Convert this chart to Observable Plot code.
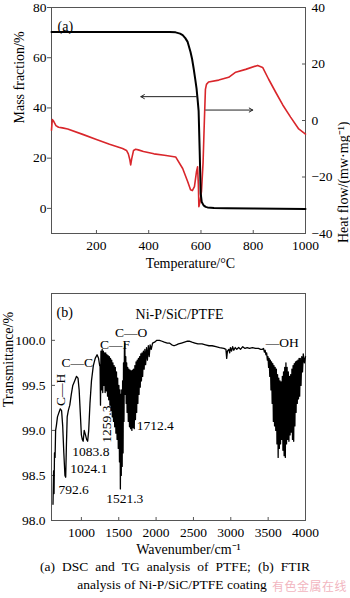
<!DOCTYPE html>
<html><head><meta charset="utf-8">
<script src="https://cdn.jsdelivr.net/npm/d3@7"></script>
<script src="https://cdn.jsdelivr.net/npm/@observablehq/plot@0.6"></script>
<style>
html,body{margin:0;padding:0;background:#fff;}
#wrap{position:relative;width:350px;height:598px;overflow:hidden;font-family:"Liberation Serif","Times New Roman",serif;color:#000;}
#wrap svg{overflow:visible;background:transparent;}
.pa{position:absolute;left:0;}
#cap1{position:absolute;left:40px;top:558px;width:270px;font-size:13.5px;line-height:18px;text-align:justify;text-align-last:justify;white-space:nowrap;}
#cap2{position:absolute;left:0;top:576px;width:344px;font-size:13.5px;line-height:18px;text-align:center;}
#wm{position:absolute;left:272px;top:578px;font-family:"Noto Sans CJK SC",sans-serif;font-size:12px;line-height:16px;color:#f2b6bf;letter-spacing:0.5px;}
</style></head><body>
<div id="wrap">
<div id="chartA" class="pa" style="top:0"></div>
<div id="chartB" class="pa" style="top:280px"></div>
<div id="cap1">(a) DSC and TG analysis of PTFE; (b) FTIR</div>
<div id="cap2">analysis of Ni-P/SiC/PTFE coating</div>
<div id="wm">有色金属在线</div>
</div>
<script>
// ---------- Panel (a) data ----------
const tgTemp = [28, 100, 200, 300, 400, 450, 480, 503, 520, 530, 540, 549, 560, 566, 572, 578, 583, 587, 591, 595, 599, 603, 610, 618, 625, 650, 700, 800, 900, 1000];
const tgMass = [70.2, 70.2, 70.2, 70.2, 70.2, 70.2, 70.2, 70.1, 69.6, 69.0, 67.8, 66.3, 62.3, 59.5, 55.7, 51.5, 47.8, 43.5, 38.8, 23.1, 5.9, 2.5, 1.2, 0.6, 0.4, 0.2, 0.1, 0.0, -0.1, -0.2];
const dscTemp = [28, 31, 36, 45, 55, 70, 90, 150, 200, 250, 300, 315, 322, 328, 331, 335, 342, 350, 360, 380, 420, 460, 503, 530, 549, 560, 567, 575, 583, 587, 590, 592, 597, 602, 608, 613, 617, 621, 629, 668, 706, 733, 771, 817, 836, 859, 886, 913, 943, 974, 1000];
const dscHeat = [-3.4, 0.3, -0.2, -1.8, -2.4, -2.6, -3.0, -5.0, -6.7, -8.4, -9.9, -10.6, -11.8, -14.0, -15.7, -13.5, -10.6, -10.2, -10.4, -11.0, -11.8, -12.3, -12.9, -17.0, -21.6, -24.5, -24.8, -23.4, -18.0, -16.4, -22.7, -30.5, -28.5, -25.0, -15.0, 0.0, 11.0, 12.8, 13.6, 14.3, 15.3, 17.1, 18.1, 19.5, 18.8, 14.6, 10.0, 5.5, 1.2, -3.0, -4.8];
const massTicks = [0, 20, 40, 60, 80];
const heatTicks = [-40, -20, 0, 20, 40];
const tempTicks = [200, 400, 600, 800, 1000];
const massDomain = [-10, 80];
const heatDomain = [-40, 40];
const tempDomain = [28, 1000];
// arrows: TG arrow (left axis), DSC arrow (right axis)
const arrowTG = {from: 585, to: 370, mass: 44.5};
const arrowDSC = {from: 618, to: 798, heat: 3.7};

// ---------- Panel (b) data ----------
const ftirLow = [[620,98.18],[628,98.55],[634,98.3],[640,98.75],[648,98.7],[655,99.0],[665,99.05],[680,99.15],[700,99.2],[718,99.24],[735,99.22],[750,99.05],[765,98.75],[780,98.5],[790,98.48],[800,98.85],[810,99.15],[825,99.22],[845,99.28],[865,99.4],[885,99.5],[910,99.55],[935,99.6],[955,99.58],[970,99.45],[985,99.2],[1000,98.95],[1012,98.9],[1024,98.88],[1038,99.0],[1055,98.95],[1070,98.9],[1084,98.88],[1098,99.0],[1115,99.3],[1135,99.55],[1160,99.72],[1185,99.8],[1210,99.84],[1230,99.8],[1245,99.72]];
const ftirCF = [[1250,99.72],[1256,99.28],[1262,99.88],[1270,99.45],[1278,99.9],[1286,99.42],[1294,99.88],[1302,99.5],[1310,99.86],[1318,99.42],[1326,99.86],[1334,99.44],[1342,99.84],[1350,99.38],[1358,99.83],[1366,99.34],[1374,99.82],[1382,99.28],[1390,99.8],[1398,99.22],[1406,99.78],[1414,99.15],[1422,99.75],[1430,99.1],[1438,99.72],[1446,99.04],[1454,99.7],[1462,98.97],[1470,99.65],[1478,98.9],[1486,99.58],[1494,98.8],[1502,99.5],[1510,98.65],[1516,99.45],[1522,98.35],[1528,99.4],[1534,98.5],[1540,99.45],[1546,98.6],[1552,99.55],[1558,98.75],[1564,99.75],[1570,99.1],[1576,99.9],[1582,99.97],[1588,99.4],[1594,99.82],[1600,99.3],[1606,99.75],[1612,99.2],[1620,99.7],[1628,99.1],[1636,99.68],[1644,99.04],[1652,99.67],[1660,99.02],[1668,99.66],[1676,99.0],[1684,99.67],[1692,99.03],[1700,99.68],[1708,99.02],[1716,99.72],[1724,99.12],[1732,99.76],[1740,99.2],[1748,99.78],[1756,99.3],[1764,99.8],[1772,99.4],[1780,99.82],[1788,99.48],[1796,99.85],[1804,99.55],[1812,99.86],[1820,99.6],[1830,99.88],[1840,99.68],[1850,99.9],[1860,99.73],[1872,99.92],[1884,99.78],[1896,99.94],[1908,99.82],[1920,99.95],[1935,99.9],[1953,99.97]];
const ftirMid = [[1980,99.98],[2010,100.0],[2045,100.0],[2080,99.99],[2110,99.98],[2150,99.97],[2178,99.97],[2210,99.95],[2240,99.94],[2271,99.95],[2300,99.96],[2340,99.97],[2380,99.98],[2420,99.99],[2443,99.99],[2480,99.98],[2520,99.97],[2560,99.96],[2615,99.96],[2660,99.95],[2708,99.94],[2750,99.94],[2801,99.93],[2850,99.92],[2907,99.91],[2935,99.9],[2945,99.8],[2955,99.88],[2973,99.9],[2985,99.86],[2995,99.92],[3010,99.88],[3025,99.93],[3040,99.89],[3060,99.92],[3080,99.9],[3106,99.92],[3130,99.9],[3160,99.93],[3190,99.91],[3220,99.92],[3250,99.91],[3290,99.92],[3330,99.91],[3370,99.91]];
const ftirOH = [[3400,99.9],[3420,99.9],[3438,99.91],[3450,99.87],[3460,99.89],[3470,99.84],[3480,99.86],[3490,99.78],[3498,99.82],[3506,99.7],[3514,99.8],[3522,99.6],[3530,99.78],[3538,99.45],[3546,99.76],[3554,99.3],[3562,99.74],[3570,99.1],[3578,99.72],[3586,99.05],[3594,99.7],[3602,99.0],[3610,99.68],[3618,98.85],[3626,99.62],[3634,98.7],[3642,99.58],[3650,98.8],[3658,99.55],[3666,98.85],[3674,99.54],[3682,98.9],[3690,99.6],[3698,98.78],[3706,99.65],[3714,98.72],[3722,99.7],[3730,98.7],[3738,99.75],[3746,98.85],[3754,99.7],[3762,98.9],[3770,99.65],[3778,98.88],[3786,99.6],[3794,98.95],[3802,99.62],[3810,98.98],[3818,99.68],[3826,98.9],[3834,99.72],[3842,98.88],[3850,99.74],[3858,99.05],[3866,99.76],[3874,99.2],[3882,99.77],[3890,99.3],[3898,99.78],[3906,99.35],[3914,99.8],[3922,99.38],[3930,99.8],[3940,99.5],[3950,99.82],[3960,99.65],[3970,99.85],[3985,99.75],[4000,99.82]];
const wnTicks = [1000, 1500, 2000, 2500, 3000, 3500, 4000];
const transTicks = [98.0, 98.5, 99.0, 99.5, 100.0];
const wnDomain = [600, 4000];
const transDomain = [98.0, 100.52];
// peak annotations anchored at (wavenumber, transmittance)
const bondLabels = [
  {wn: 945, t: 99.75, text: "C—C", rotate: 0},
  {wn: 1449, t: 99.95, text: "C—F", rotate: 0},
  {wn: 1667, t: 100.08, text: "C—O", rotate: 0},
  {wn: 3690, t: 99.97, text: "—OH", rotate: 0},
  {wn: 719, t: 99.45, text: "C—H", rotate: -90},
  {wn: 1335, t: 99.07, text: "1259.3", rotate: -90},
  {wn: 1581, t: 98.24, text: "1521.3", rotate: 0}
];
const peakLabels = [
  {wn: 1740, t: 99.05, text: "1712.4"},
  {wn: 878, t: 98.76, text: "1083.8"},
  {wn: 852, t: 98.58, text: "1024.1"},
  {wn: 693, t: 98.34, text: "792.6"}
];

// ---------- helpers ----------
const heatToMass = h => massDomain[0] + (h - heatDomain[0]) * (massDomain[1] - massDomain[0]) / (heatDomain[1] - heatDomain[0]);
const massToHeat = m => heatDomain[0] + (m - massDomain[0]) * (heatDomain[1] - heatDomain[0]) / (massDomain[1] - massDomain[0]);
const fmtMinus = v => v < 0 ? "\u2212" + Math.abs(v) : String(v);
const FONT = "Liberation Serif, Times New Roman, serif";
const AX = "#555";

const tg = tgTemp.map((t, i) => ({t, v: tgMass[i]}));
const dsc = dscTemp.map((t, i) => ({t, v: heatToMass(dscHeat[i])}));

const chartA = Plot.plot({
  width: 350, height: 280,
  marginLeft: 51, marginRight: 45, marginTop: 7, marginBottom: 47,
  x: {domain: tempDomain, label: null},
  y: {domain: massDomain, label: null},
  style: {fontFamily: FONT, fontSize: "13.5px", color: "#000", background: "transparent"},
  marks: [
    Plot.frame({stroke: AX}),
    Plot.axisY(massTicks, {anchor: "left", tickSize: 4, tickPadding: 1, stroke: AX, label: null, tickFormat: d => String(d)}),
    Plot.axisY(heatTicks.map(heatToMass), {anchor: "right", tickSize: -4, tickPadding: 10, stroke: AX, label: null, tickFormat: d => fmtMinus(Math.round(massToHeat(d)))}),
    Plot.axisX(tempTicks, {anchor: "bottom", tickSize: -3, tickPadding: 10, stroke: AX, label: null, tickFormat: d => String(d)}),
    Plot.line(dsc, {x: "t", y: "v", stroke: "#d9262b", strokeWidth: 1.6}),
    Plot.line(tg, {x: "t", y: "v", stroke: "#000", strokeWidth: 2}),
    Plot.arrow([arrowTG], {x1: "from", x2: "to", y1: "mass", y2: "mass", stroke: "#222", strokeWidth: 1, headLength: 6}),
    Plot.arrow([arrowDSC], {x1: "from", x2: "to", y1: d => heatToMass(d.heat), y2: d => heatToMass(d.heat), stroke: "#222", strokeWidth: 1, headLength: 6}),
    Plot.text(["(a)"], {frameAnchor: "top-left", dx: 6, dy: 14, textAnchor: "start", fontSize: 14}),
    Plot.text(["Mass fraction/%"], {frameAnchor: "left", rotate: -90, dx: -32, dy: 3, fontSize: 14}),
    Plot.text(["Heat flow/(mw·mg⁻¹)"], {frameAnchor: "right", rotate: -90, dx: 38, dy: 1, fontSize: 14}),
    Plot.text(["Temperature/°C"], {frameAnchor: "bottom", dx: 12, dy: 34, fontSize: 14})
  ]
});
document.getElementById("chartA").appendChild(chartA);

const ftir = [...ftirLow, ...ftirCF, ...ftirMid, ...ftirOH].map(([wn, t]) => ({wn, t}));

const chartB = Plot.plot({
  width: 350, height: 280,
  marginLeft: 51, marginRight: 45, marginTop: 13, marginBottom: 40,
  x: {domain: wnDomain, label: null},
  y: {domain: transDomain, label: null},
  style: {fontFamily: FONT, fontSize: "13.5px", color: "#000", background: "transparent"},
  marks: [
    Plot.frame({stroke: AX}),
    Plot.axisY(transTicks, {anchor: "left", tickSize: -4, tickPadding: 10, stroke: AX, label: null, tickFormat: d => d.toFixed(1)}),
    Plot.axisX(wnTicks, {anchor: "bottom", tickSize: -3, tickPadding: 9.5, stroke: AX, label: null, tickFormat: d => String(d)}),
    Plot.line(ftir, {x: "wn", y: "t", stroke: "#000", strokeWidth: 1.3}),
    Plot.text(bondLabels, {x: "wn", y: "t", text: "text", rotate: "rotate", fontSize: 13.5}),
    Plot.text(peakLabels, {x: "wn", y: "t", text: "text", textAnchor: "start", fontSize: 13.5}),
    Plot.text(["(b)"], {frameAnchor: "top-left", dx: 5, dy: 14, textAnchor: "start", fontSize: 14}),
    Plot.text(["Ni-P/SiC/PTFE"], {frameAnchor: "top", dx: 1, dy: 16, fontSize: 14}),
    Plot.text(["Transmittance/%"], {frameAnchor: "left", rotate: -90, dx: -43, fontSize: 14}),
    Plot.text(["Wavenumber/cm⁻¹"], {frameAnchor: "bottom", dx: 10, dy: 33, fontSize: 14})
  ]
});
document.getElementById("chartB").appendChild(chartB);
</script>
</body></html>
